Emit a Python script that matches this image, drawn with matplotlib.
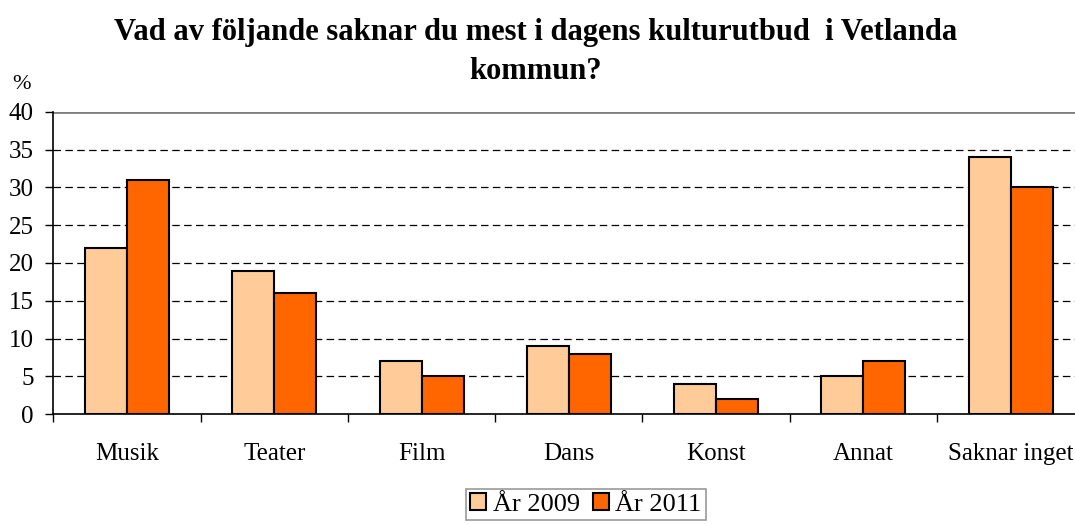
import matplotlib
matplotlib.use("Agg")
import matplotlib.pyplot as plt
import numpy as np

categories = ["Musik", "Teater", "Film", "Dans", "Konst", "Annat", "Saknar inget"]
year_2009 = [22, 19, 7, 9, 4, 5, 34]
year_2011 = [31, 16, 5, 8, 2, 7, 30]
series_labels = ["År 2009", "År 2011"]
title = "Vad av följande saknar du mest i dagens kulturutbud  i Vetlanda\nkommun?"

plt.rcParams["font.family"] = ["Liberation Serif", "DejaVu Serif"]

fig = plt.figure(figsize=(10.75, 5.24), dpi=100)
# plot area runs a little past the right edge of the picture, as in the original
ax = fig.add_axes([0.0496, 0.2099, 0.9591, 0.5764])

x = np.arange(len(categories))
w = 0.285
b1 = ax.bar(x - w / 2, year_2009, w, color="#FFCC99", edgecolor="black",
            linewidth=1.5, label=series_labels[0], zorder=3)
b2 = ax.bar(x + w / 2, year_2011, w, color="#FF6600", edgecolor="black",
            linewidth=1.5, label=series_labels[1], zorder=3)

ax.set_xlim(-0.5, len(categories) - 0.5)
ax.set_ylim(0, 40)
ax.set_yticks(range(0, 41, 5))
ax.tick_params(axis="y", labelsize=18, length=6, width=1, direction="out", pad=8)

# category labels between boundary ticks
ax.set_xticks(np.arange(-0.5, len(categories), 1))
ax.set_xticklabels([])
ax.set_xticks(x, minor=True)
ax.set_xticklabels(categories, minor=True)
ax.tick_params(axis="x", which="major", length=6, width=1, direction="out")
ax.tick_params(axis="x", which="minor", length=0, labelsize=18, pad=21)

for yv in range(5, 40, 5):
    ax.axhline(yv, color="black", linestyle=(0, (6, 3.5)), linewidth=0.9, zorder=1)
ax.axhline(40, color="#808080", linewidth=2, zorder=1)

for side in ["top", "right"]:
    ax.spines[side].set_visible(False)
ax.spines["left"].set_linewidth(1.2)
ax.spines["bottom"].set_linewidth(1.2)

fig.text(0.498, 0.965, title, ha="center", va="top", fontsize=22,
         fontweight="bold", linespacing=1.42)
fig.text(0.011, 0.838, "%", fontsize=16, ha="left", va="center")

leg = fig.legend(handles=[b1, b2], loc="upper center",
                 bbox_to_anchor=(0.545, 0.066), ncol=2, fontsize=19,
                 frameon=True, fancybox=False, edgecolor="#808080",
                 handlelength=0.6, handleheight=0.6, handletextpad=0.25,
                 columnspacing=0.5, borderpad=0.15, borderaxespad=0)
leg.get_frame().set_linewidth(1.2)

fig.savefig("out.png", dpi=100)
